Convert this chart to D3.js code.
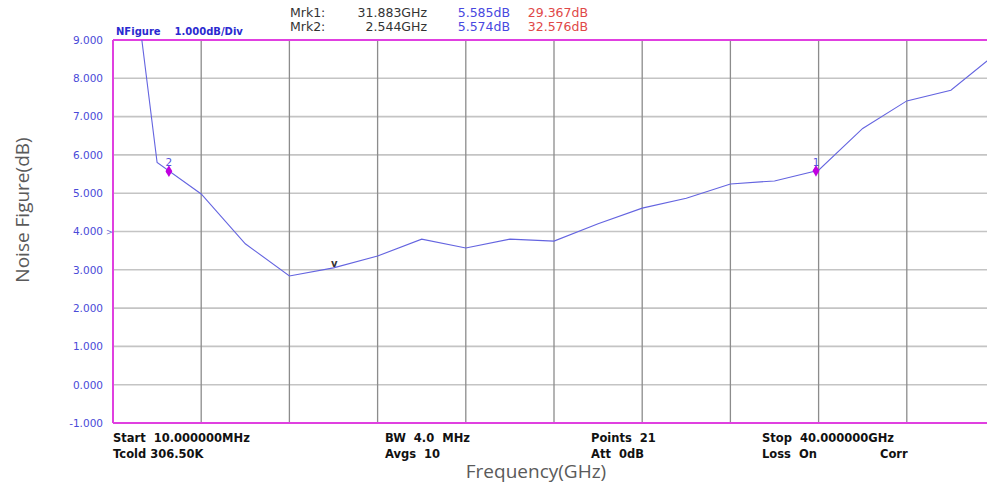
<!DOCTYPE html>
<html>
<head>
<meta charset="utf-8">
<script src="https://cdn.jsdelivr.net/npm/d3@7"></script>
<style>
  body { margin: 0; background: #fff; }
  svg { display: block; }
  .hdr { font-family: "DejaVu Sans", sans-serif; font-size: 12.5px; }
  .info { font-family: "DejaVu Sans", sans-serif; font-size: 11.5px; font-weight: bold; fill: #111; white-space: pre; }
  .ytick text { font-family: "DejaVu Sans", sans-serif; font-size: 10.5px; fill: #4a4ad8; }
  .title { font-family: "Open Sans", sans-serif; font-size: 19px; fill: #5a5a5a; }
</style>
</head>
<body>
<div class="graph"></div>
<script>
// dimensions
const W = 987, H = 490;
const plot = { left: 113, right: 995, top: 40, bottom: 423 };

// data: 21 sweep points from 10 MHz to 40 GHz
const START_GHZ = 0.01;
const STOP_GHZ = 40;
const noiseFigureDb = [15.05, 5.80, 4.98, 3.68, 2.84, 3.05, 3.36, 3.80, 3.57, 3.80, 3.75,
                       4.20, 4.61, 4.87, 5.24, 5.32, 5.60, 6.69, 7.41, 7.69, 8.62];
const yTicks = [9, 8, 7, 6, 5, 4, 3, 2, 1, 0, -1];
const markers = [
  { name: "1", freq: 31.883, value: 5.585 },
  { name: "2", freq: 2.544, value: 5.574 }
];
const markerTable = [
  ["Mrk1:", "31.883GHz", "5.585dB", "29.367dB"],
  ["Mrk2:", "2.544GHz", "5.574dB", "32.576dB"]
];
const infoRows = [
  ["Start  10.000000MHz", "BW  4.0  MHz", "Points  21", "Stop  40.000000GHz"],
  ["Tcold 306.50K", "Avgs  10", "Att  0dB", "Loss  On"]
];

const freqs = noiseFigureDb.map((v, i) => START_GHZ + i * (STOP_GHZ - START_GHZ) / (noiseFigureDb.length - 1));
const data = freqs.map((f, i) => ({ f: f, v: noiseFigureDb[i] }));

const svg = d3.select(".graph").append("svg")
  .attr("width", W).attr("height", H);

const x = d3.scaleLinear().domain([START_GHZ, STOP_GHZ]).range([plot.left, plot.right]);
const y = d3.scaleLinear().domain([-1, 9]).range([plot.bottom, plot.top]);

// grid
const xGrid = d3.range(1, 10).map(i => START_GHZ + i * (STOP_GHZ - START_GHZ) / 10);
svg.append("g").selectAll("line").data(yTicks.slice(1, -1)).join("line")
  .attr("x1", plot.left).attr("x2", W)
  .attr("y1", d => y(d)).attr("y2", d => y(d))
  .attr("stroke", "#c4c4c4").attr("stroke-width", 1.6);
svg.append("g").selectAll("line").data(xGrid).join("line")
  .attr("x1", d => x(d)).attr("x2", d => x(d))
  .attr("y1", plot.top).attr("y2", plot.bottom)
  .attr("stroke", "#8c8c8c").attr("stroke-width", 1.3);

// frame (magenta)
const frameColour = "#e040e0";
svg.append("line").attr("x1", plot.left).attr("x2", W).attr("y1", plot.top).attr("y2", plot.top)
  .attr("stroke", frameColour).attr("stroke-width", 2);
svg.append("line").attr("x1", plot.left).attr("x2", W).attr("y1", plot.bottom).attr("y2", plot.bottom)
  .attr("stroke", frameColour).attr("stroke-width", 2);
svg.append("line").attr("x1", plot.left).attr("x2", plot.left).attr("y1", plot.top).attr("y2", plot.bottom)
  .attr("stroke", frameColour).attr("stroke-width", 2);

// y axis labels (plain hyphen for negatives, like the analyser screen)
const fmt = d3.format(".3f");
const yAxis = svg.append("g").attr("class", "ytick")
  .attr("transform", "translate(" + (plot.left - 10) + ",0)")
  .call(d3.axisLeft(y).tickValues(yTicks).tickFormat(d => fmt(d).replace("\u2212", "-")).tickSize(0).tickPadding(0));
yAxis.select(".domain").remove();

// reference level arrow next to 4.000
svg.append("text").attr("x", plot.left - 7).attr("y", y(4) + 3)
  .style("font-family", "DejaVu Sans").style("font-size", "8px").style("fill", "#6a6ad0").text(">");

// trace
svg.append("clipPath").attr("id", "clip").append("rect")
  .attr("x", plot.left).attr("y", plot.top).attr("width", W - plot.left).attr("height", plot.bottom - plot.top);
svg.append("path").datum(data)
  .attr("clip-path", "url(#clip)")
  .attr("fill", "none").attr("stroke", "#6464e0").attr("stroke-width", 1.1)
  .attr("d", d3.line().x(d => x(d.f)).y(d => y(d.v)));

// min marker "v"
svg.append("text").attr("x", x(10.04)).attr("y", y(3.07))
  .attr("text-anchor", "middle")
  .style("font-family", "DejaVu Sans").style("font-size", "10px").style("font-weight", "bold").style("fill", "#333")
  .text("v");

// markers
const mk = svg.append("g").selectAll("g").data(markers).join("g")
  .attr("transform", d => "translate(" + x(d.freq) + "," + y(d.value) + ")");
mk.append("path").attr("d", d3.symbol(d3.symbolDiamond, 40)).attr("fill", "#c000e0");
mk.append("circle").attr("r", 2.6).attr("fill", "#c000e0");
mk.append("text").attr("y", -5).attr("text-anchor", "middle")
  .style("font-family", "DejaVu Sans").style("font-size", "10.5px").style("fill", "#5555dd")
  .text(d => d.name);

// header
svg.append("text").attr("x", 116).attr("y", 35)
  .style("font-family", "DejaVu Sans").style("font-size", "10px").style("font-weight", "bold").style("fill", "#2a2ad0")
  .style("white-space", "pre")
  .text("NFigure    1.000dB/Div");
markerTable.forEach((row, i) => {
  const yy = 17 + i * 14;
  svg.append("text").attr("class", "hdr").attr("x", 290).attr("y", yy).style("fill", "#333").text(row[0]);
  svg.append("text").attr("class", "hdr").attr("x", 427).attr("y", yy).attr("text-anchor", "end").style("fill", "#333").text(row[1]);
  svg.append("text").attr("class", "hdr").attr("x", 510).attr("y", yy).attr("text-anchor", "end").style("fill", "#4848e0").text(row[2]);
  svg.append("text").attr("class", "hdr").attr("x", 588).attr("y", yy).attr("text-anchor", "end").style("fill", "#e04848").text(row[3]);
});

// bottom info
const infoX = [113, 385, 591, 762];
infoRows.forEach((row, i) => {
  row.forEach((t, j) => {
    svg.append("text").attr("class", "info").attr("x", infoX[j]).attr("y", 442 + i * 16).text(t);
  });
});
svg.append("text").attr("class", "info").attr("x", 880).attr("y", 458).text("Corr");

// axis titles
svg.append("text").attr("class", "title").attr("text-anchor", "middle")
  .attr("x", 536).attr("y", 478).text("Frequency(GHz)");
svg.append("text").attr("class", "title").attr("text-anchor", "middle")
  .attr("transform", "translate(29,210) rotate(-90)").text("Noise Figure(dB)");
</script>
</body>
</html>
